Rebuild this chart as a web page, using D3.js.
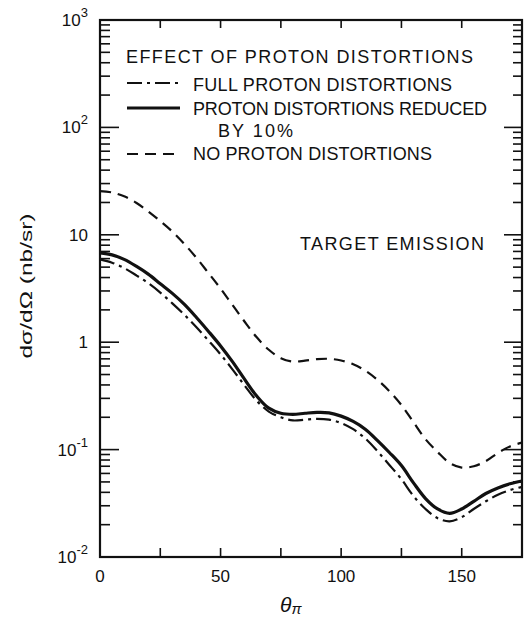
<!DOCTYPE html>
<html>
<head>
<meta charset="utf-8">
<script src="https://cdn.jsdelivr.net/npm/d3@7"></script>
<style>
  html, body { margin: 0; padding: 0; background: #fff; }
  svg { display: block; }
  text { font-family: "Liberation Sans", "DejaVu Sans", sans-serif; fill: #111; }
</style>
</head>
<body>
<svg id="chart" width="526" height="620"></svg>
<script>
// Pion production angle (degrees)
const theta = [0, 5, 10, 15, 20, 25, 30, 35, 40, 45, 50, 55, 60, 65, 70, 75, 80, 85, 90,
               95, 100, 105, 110, 115, 120, 125, 130, 135, 140, 145, 150, 155, 160, 165, 170, 175];

// dσ/dΩ (nb/sr) for the three distortion treatments
const fullDistortions = [5.9, 5.5, 4.9, 4.2, 3.55, 2.9, 2.3, 1.8, 1.38, 1.035, 0.77, 0.556, 0.394, 0.285, 0.226, 0.2, 0.187, 0.19, 0.193,
                         0.19, 0.177, 0.155, 0.127, 0.097, 0.072, 0.053, 0.037, 0.028, 0.023, 0.0215, 0.0235, 0.028, 0.033, 0.038, 0.042, 0.045];
const reducedDistortions = [6.8, 6.5, 5.9, 5.1, 4.3, 3.5, 2.85, 2.25, 1.7, 1.26, 0.923, 0.655, 0.45, 0.315, 0.243, 0.218, 0.213, 0.218, 0.222,
                            0.22, 0.205, 0.183, 0.155, 0.122, 0.094, 0.071, 0.049, 0.035, 0.028, 0.0255, 0.028, 0.033, 0.039, 0.044, 0.048, 0.051];
const noDistortions = [25.5, 24.8, 22.8, 19.9, 16.5, 13.4, 10.7, 8.2, 6.1, 4.4, 3.16, 2.21, 1.55, 1.11, 0.85, 0.71, 0.66, 0.673, 0.695,
                       0.70, 0.676, 0.624, 0.543, 0.447, 0.35, 0.26, 0.18, 0.125, 0.095, 0.075, 0.068, 0.07, 0.078, 0.093, 0.107, 0.116];

const xTicks = [25, 50, 75, 100, 125, 150];
const xTickLabels = [0, 50, 100, 150];
const yDecades = [
  { v: 1e3, base: "10", sup: "3" },
  { v: 1e2, base: "10", sup: "2" },
  { v: 1e1, base: "10", sup: "" },
  { v: 1,   base: "1",  sup: "" },
  { v: 1e-1, base: "10", sup: "-1" },
  { v: 1e-2, base: "10", sup: "-2" }
];

const legendTitle = "EFFECT OF PROTON DISTORTIONS";
const legendLabels = ["FULL PROTON DISTORTIONS", "PROTON DISTORTIONS REDUCED", "NO PROTON DISTORTIONS"];
const legendSubLabel = "BY 10%";
const panelNote = "TARGET EMISSION";

const svg = d3.select("#chart");
const plot = { left: 100, right: 522, top: 20, bottom: 557 };

const x = d3.scaleLinear().domain([0, 175]).range([plot.left, plot.right]);
const y = d3.scaleLog().domain([0.01, 1000]).range([plot.bottom, plot.top]);

const styles = {
  full:    { width: 2.2, dash: "15,5,3,5" },
  reduced: { width: 3.2, dash: null },
  none:    { width: 2.2, dash: "11,7" }
};

// Frame
svg.append("rect")
  .attr("x", plot.left).attr("y", plot.top)
  .attr("width", plot.right - plot.left).attr("height", plot.bottom - plot.top)
  .attr("fill", "none").attr("stroke", "#111").attr("stroke-width", 2.2);

// Log minor + major ticks on left and right edges
const minorVals = [];
for (let e = -2; e < 3; e++) {
  for (let m = 2; m <= 9; m++) minorVals.push(m * Math.pow(10, e));
}
const ticksG = svg.append("g").attr("stroke", "#111").attr("stroke-width", 1.6);
minorVals.forEach(v => {
  ticksG.append("line").attr("x1", plot.left).attr("x2", plot.left + 10).attr("y1", y(v)).attr("y2", y(v));
  ticksG.append("line").attr("x1", plot.right).attr("x2", plot.right - 9).attr("y1", y(v)).attr("y2", y(v));
});
yDecades.forEach(d => {
  ticksG.append("line").attr("x1", plot.left).attr("x2", plot.left + 19).attr("y1", y(d.v)).attr("y2", y(d.v));
  ticksG.append("line").attr("x1", plot.right).attr("x2", plot.right - 18).attr("y1", y(d.v)).attr("y2", y(d.v));
});
// Angle ticks on top and bottom edges
xTicks.forEach(t => {
  ticksG.append("line").attr("x1", x(t)).attr("x2", x(t)).attr("y1", plot.top).attr("y2", plot.top + 8);
  ticksG.append("line").attr("x1", x(t)).attr("x2", x(t)).attr("y1", plot.bottom).attr("y2", plot.bottom - 9);
});

// Y tick labels with exponents
yDecades.forEach(d => {
  const t = svg.append("text")
    .attr("x", 88).attr("y", y(d.v) + 6)
    .attr("text-anchor", "end")
    .attr("font-size", 17);
  t.append("tspan").text(d.base);
  if (d.sup) {
    t.append("tspan").attr("dy", -9).attr("font-size", 13).text(d.sup);
  }
});

// X tick labels
xTickLabels.forEach(v => {
  svg.append("text")
    .attr("x", x(v)).attr("y", 582)
    .attr("text-anchor", "middle")
    .attr("font-size", 17)
    .text(v);
});

// Axis titles
const xt = svg.append("text").attr("x", 280).attr("y", 612).attr("font-size", 21)
  .attr("font-family", "DejaVu Serif, serif");
xt.append("tspan").attr("font-style", "italic").text("θ");
xt.append("tspan").attr("dy", 2).attr("font-size", 15).attr("font-style", "italic").text("π");

svg.append("text")
  .attr("transform", "translate(32,286) rotate(-90)")
  .attr("text-anchor", "middle")
  .attr("font-size", 17)
  .attr("textLength", 145).attr("lengthAdjust", "spacingAndGlyphs")
  .text("dσ/dΩ  (nb/sr)");

// Curves
const line = d3.line()
  .x((d, i) => x(theta[i]))
  .y(d => y(d))
  .curve(d3.curveCatmullRom.alpha(0.5));

const curves = svg.append("g").attr("fill", "none").attr("stroke", "#111")
  .attr("stroke-linecap", "butt");
[[noDistortions, styles.none], [fullDistortions, styles.full], [reducedDistortions, styles.reduced]]
  .forEach(([vals, s]) => {
    curves.append("path")
      .attr("d", line(vals))
      .attr("stroke-width", s.width)
      .attr("stroke-dasharray", s.dash);
  });

// Legend
svg.append("text").attr("x", 126).attr("y", 63).attr("font-size", 18)
  .attr("textLength", 347).attr("lengthAdjust", "spacing").text(legendTitle);

const legendRows = [
  { y: 83, s: styles.full, label: legendLabels[0], ty: 91, len: 259 },
  { y: 108, s: styles.reduced, label: legendLabels[1], ty: 115, len: 294 },
  { y: 154, s: styles.none, label: legendLabels[2], ty: 160, len: 239 }
];
legendRows.forEach(r => {
  svg.append("line")
    .attr("x1", 127).attr("x2", 180).attr("y1", r.y).attr("y2", r.y)
    .attr("stroke", "#111").attr("stroke-width", r.s.width)
    .attr("stroke-dasharray", r.s.dash);
  svg.append("text").attr("x", 193).attr("y", r.ty).attr("font-size", 18)
    .attr("textLength", r.len).attr("lengthAdjust", "spacing").text(r.label);
});
svg.append("text").attr("x", 218).attr("y", 137).attr("font-size", 18)
  .attr("textLength", 75).attr("lengthAdjust", "spacing").text(legendSubLabel);

svg.append("text").attr("x", 300).attr("y", 250).attr("font-size", 18)
  .attr("textLength", 184).attr("lengthAdjust", "spacing").text(panelNote);
</script>
</body>
</html>
